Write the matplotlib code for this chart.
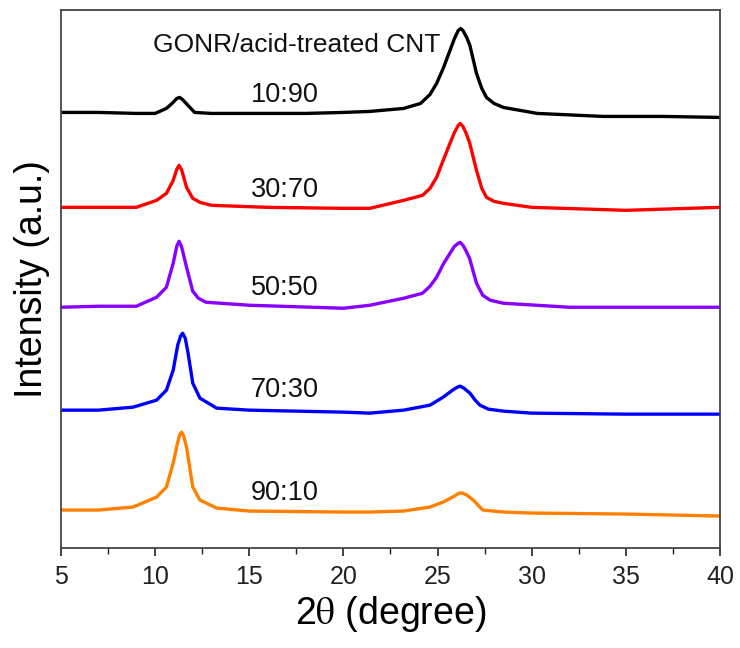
import matplotlib
matplotlib.use("Agg")
import matplotlib.pyplot as plt
from matplotlib.ticker import MultipleLocator

plt.rcParams['font.family'] = ['Liberation Sans', 'DejaVu Sans']
plt.rcParams['mathtext.fontset'] = 'stix'

# 2theta positions (degree) and intensities (a.u., already offset)
x_1090 = [5, 7, 9, 10.0, 10.6, 10.9, 11.15, 11.3, 11.45, 11.7, 12.1, 13, 15, 18, 20, 21.4, 23.2, 24.1, 24.6, 24.95, 25.3, 25.66, 25.9, 26.1, 26.23, 26.35, 26.55, 26.72, 27.07, 27.35, 27.6, 28.0, 28.5, 30.3, 33.8, 37, 40]
y_1090 = [436, 436, 435, 435, 440, 445, 450, 451, 449, 444, 436, 435, 435, 435, 436, 437, 440, 445, 454, 465, 480, 498, 510, 518, 520, 518, 511, 503, 475, 460, 451, 445, 441, 435, 432, 432, 431]

x_3070 = [5, 7, 9, 10.08, 10.6, 10.96, 11.15, 11.27, 11.4, 11.67, 12.0, 12.38, 13, 16, 20, 21.4, 23.2, 24.2, 24.6, 24.95, 25.3, 25.66, 25.9, 26.1, 26.2, 26.35, 26.5, 26.7, 27.07, 27.35, 27.6, 28.0, 28.5, 30, 35, 40]
y_3070 = [341, 341, 341, 348, 355, 368, 379, 383, 379, 361, 350, 346, 343, 341, 340, 340, 348, 353, 360, 371, 388, 405, 416, 423, 425, 422, 416, 406, 378, 360, 351, 347, 345, 341, 338, 341]

x_5050 = [5, 7, 9, 10.08, 10.6, 10.96, 11.15, 11.27, 11.4, 11.67, 12.0, 12.3, 12.7, 15, 20, 21.4, 23.2, 24.2, 24.6, 24.95, 25.3, 25.66, 25.9, 26.1, 26.2, 26.35, 26.5, 26.7, 27.07, 27.4, 27.8, 28.5, 32, 36, 40]
y_5050 = [241, 242, 242, 251, 261, 285, 302, 307, 302, 281, 257, 250, 246, 243, 240, 243, 250, 255, 262, 271, 284, 295, 302, 305, 306, 303, 298, 290, 265, 253, 248, 245, 241, 241, 241]

x_7030 = [5, 7, 8.83, 10.08, 10.6, 10.96, 11.2, 11.35, 11.46, 11.6, 11.75, 12.0, 12.38, 13.27, 15, 20, 21.4, 23.2, 24.6, 25.3, 25.8, 26.05, 26.2, 26.4, 26.72, 27.0, 27.25, 27.7, 28.5, 30, 35, 40]
y_7030 = [138, 138, 141, 148, 158, 178, 203, 212, 215, 210, 195, 165, 150, 140, 138, 136, 135, 138, 143, 151, 158, 161, 162, 160, 155, 148, 143, 139, 137, 135, 134, 134]

x_9010 = [5, 7, 8.83, 10.08, 10.6, 10.96, 11.2, 11.32, 11.41, 11.52, 11.67, 12.0, 12.38, 13.27, 15, 20, 21.4, 23.2, 24.6, 25.3, 25.9, 26.15, 26.33, 26.55, 26.9, 27.4, 28.5, 30, 35, 40]
y_9010 = [38, 38, 41, 51, 61, 85, 106, 114, 116, 112, 101, 61, 48, 40, 37, 36, 36, 37, 41, 46, 52, 55, 55, 53, 48, 38, 36, 35, 34, 32]

labels = ["10:90", "30:70", "50:50", "70:30", "90:10"]
colors = ["#000000", "#ff0000", "#8800ff", "#0000ff", "#ff8000"]
label_y = [453, 358, 260, 158, 55]

fig = plt.figure(figsize=(7.4, 6.48), dpi=100)
ax = fig.add_axes([0.0824, 0.1543, 0.8905, 0.8310])

series = [(x_1090, y_1090), (x_3070, y_3070), (x_5050, y_5050), (x_7030, y_7030), (x_9010, y_9010)]
for (xs, ys), c in zip(series, colors):
    ax.plot(xs, ys, color=c, lw=2.4, solid_joinstyle='round')

for lab, ly in zip(labels, label_y):
    ax.text(16.9, ly, lab, fontsize=19.5, ha='center', va='center', color='#111111')
ax.text(17.5, 503, "GONR/acid-treated CNT", fontsize=19, ha='center', va='center', color='#111111')

ax.set_xlim(5, 40)
ax.set_ylim(0, 539)
ax.xaxis.set_major_locator(MultipleLocator(5))
ax.xaxis.set_minor_locator(MultipleLocator(2.5))
ax.set_yticks([])
ax.tick_params(axis='x', which='major', direction='out', length=6, width=1.2, labelsize=18, pad=6, colors='#222222')
ax.tick_params(axis='x', which='minor', direction='out', length=4, width=1.0, colors='#222222')
for s in ax.spines.values():
    s.set_linewidth(1.3)
    s.set_color('#444444')

ax.set_xlabel(r"2$\mathrm{\theta}$ (degree)", fontsize=27, labelpad=4)
ax.set_ylabel("Intensity (a.u.)", fontsize=27, labelpad=8)

fig.savefig("out.png", dpi=100)
